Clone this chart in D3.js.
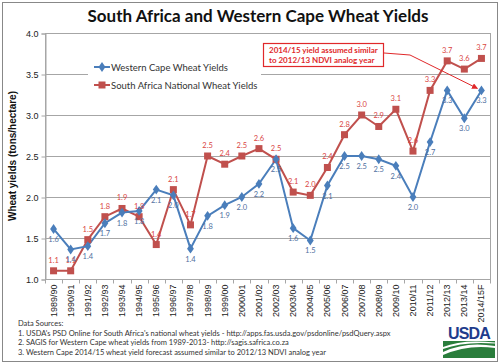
<!DOCTYPE html>
<html><head><meta charset="utf-8">
<script src="https://cdn.jsdelivr.net/npm/d3@7"></script>
<style>
html,body{margin:0;padding:0;background:#fff;}
svg{display:block;}
</style></head>
<body>
<svg id="chart" width="500" height="364"></svg>
<script>
const categories = ["1989/90","1990/91","1991/92","1992/93","1993/94","1994/95","1995/96","1996/97","1997/98","1998/99","1999/00","2000/01","2001/02","2002/03","2003/04","2004/05","2005/06","2006/07","2007/08","2008/09","2009/10","2010/11","2011/12","2012/13","2013/14","2014/15F"];
const westernCape = [1.61,1.36,1.40,1.68,1.81,1.83,2.09,2.02,1.37,1.77,1.90,2.00,2.16,2.46,1.62,1.47,2.14,2.50,2.50,2.46,2.38,2.00,2.67,3.30,2.96,3.30];
const southAfrica = [1.10,1.10,1.48,1.76,1.86,1.76,1.42,2.09,1.66,2.50,2.40,2.50,2.59,2.46,2.06,2.02,2.36,2.76,3.00,2.86,3.07,2.56,3.30,3.66,3.56,3.69];
const yTicks = [1.0,1.5,2.0,2.5,3.0,3.5,4.0];
const seriesNames = ["Western Cape Wheat Yields","South Africa National Wheat Yields"];
const titleText = "South Africa and Western Cape Wheat Yields";
const yTitle = "Wheat yields (tons/hectare)";
const noteLines = ["2014/15 yield assumed similar","to 2012/13 NDVI analog year"];
const sourceLines = ["Data Sources:",
 "1. USDA's PSD Online for South Africa's national wheat yields - http://apps.fas.usda.gov/psdonline/psdQuery.aspx",
 "2. SAGIS for Western Cape wheat yields from 1989-2013- http://sagis.safrica.co.za",
 "3. Western Cape 2014/15 wheat yield forecast  assumed similar to 2012/13 NDVI analog year"];

const blue = "#4a7ebb", red = "#c0504d", blueLbl = "#4f6fa0", redLbl = "#d9453f";
const svg = d3.select("#chart");
const L = 45, R = 490, T = 33, B = 279;

// outer border
svg.append("rect").attr("x",2.5).attr("y",2.5).attr("width",495).attr("height",359)
  .attr("fill","#fff").attr("stroke","#888").attr("stroke-width",1);

const x = d3.scalePoint().domain(categories).range([L,R]).padding(0.5);
const y = d3.scaleLinear().domain([1,4]).range([B,T]);

// title
svg.append("text").attr("x",258).attr("y",22).attr("text-anchor","middle")
  .attr("font-family","Lato, 'Open Sans', sans-serif").attr("font-weight","bold")
  .attr("font-size",17).attr("fill","#111").text(titleText);

// gridlines
svg.append("g").selectAll("line").data(yTicks).join("line")
  .attr("x1",L).attr("x2",R).attr("y1",d=>Math.round(y(d))+0.5).attr("y2",d=>Math.round(y(d))+0.5)
  .attr("stroke","#a6a6a6").attr("stroke-width",1);
svg.append("rect").attr("x",L+0.5).attr("y",T+0.5).attr("width",R-L).attr("height",B-T)
  .attr("fill","none").attr("stroke","#a6a6a6");

// y axis
const yAxis = d3.axisLeft(y).tickValues(yTicks).tickFormat(d3.format(".1f")).tickSize(4).tickPadding(3);
const gy = svg.append("g").attr("transform",`translate(${L+0.5},0.5)`).call(yAxis);
gy.select(".domain").attr("stroke","#a6a6a6");
gy.selectAll(".tick line").attr("stroke","#a6a6a6");
gy.selectAll("text").attr("font-family","'Liberation Sans', Arial, sans-serif").attr("font-size",9).attr("fill","#222");

// x axis with ticks between categories
const step = x.step();
const gx = svg.append("g").attr("transform",`translate(0,${B+0.5})`);
gx.append("line").attr("x1",L).attr("x2",R).attr("stroke","#a6a6a6");
gx.selectAll("line.tk").data(d3.range(categories.length+1)).join("line").attr("class","tk")
  .attr("x1",i=>Math.round(L+i*step)+0.5).attr("x2",i=>Math.round(L+i*step)+0.5)
  .attr("y1",0).attr("y2",4).attr("stroke","#a6a6a6");
gx.selectAll("text").data(categories).join("text")
  .attr("transform",d=>`translate(${x(d)+3},5) rotate(-90)`)
  .attr("text-anchor","end")
  .attr("font-family","'Liberation Sans', Arial, sans-serif").attr("font-size",9).attr("fill","#222")
  .text(d=>d);

// y title
svg.append("text").attr("transform",`translate(16,${(T+B)/2}) rotate(-90)`)
  .attr("text-anchor","middle").attr("font-family","'Liberation Sans', Arial, sans-serif")
  .attr("font-weight","bold").attr("font-size",10).attr("fill","#111").text(yTitle);

// lines
const line = d3.line().x((d,i)=>x(categories[i])).y(d=>y(d));
svg.append("path").datum(southAfrica).attr("d",line).attr("fill","none").attr("stroke",red).attr("stroke-width",2);
svg.append("path").datum(westernCape).attr("d",line).attr("fill","none").attr("stroke",blue).attr("stroke-width",2);

// markers
svg.append("g").selectAll("rect").data(southAfrica).join("rect")
  .attr("x",(d,i)=>x(categories[i])-3.5).attr("y",d=>y(d)-3.5).attr("width",7).attr("height",7).attr("fill",red);
const diamond = d3.symbol().type(d3.symbolDiamond).size(28);
svg.append("g").selectAll("path").data(westernCape).join("path")
  .attr("d",diamond).attr("transform",(d,i)=>`translate(${x(categories[i])},${y(d)}) scale(1.2,1)`).attr("fill",blue);

// data labels
svg.append("g").selectAll("text").data(southAfrica).join("text")
  .attr("x",(d,i)=>x(categories[i])).attr("y",d=>y(d)-8).attr("text-anchor","middle")
  .attr("font-family","Lato, sans-serif").attr("font-size",7.5).attr("fill",redLbl)
  .text(d=>d3.format(".1f")(d));
svg.append("g").selectAll("text").data(westernCape).join("text")
  .attr("x",(d,i)=>x(categories[i])).attr("y",d=>y(d)+13).attr("text-anchor","middle")
  .attr("font-family","Lato, sans-serif").attr("font-size",7.5).attr("fill",blueLbl)
  .text(d=>d3.format(".1f")(d));

// legend
const lg = svg.append("g");
lg.append("rect").attr("x",88).attr("y",56).attr("width",173).attr("height",38).attr("fill","#fff");
const legendData = [{name:seriesNames[0],c:blue,m:"d"},{name:seriesNames[1],c:red,m:"s"}];
legendData.forEach((s,i)=>{
  const yy = 67 + i*18;
  lg.append("line").attr("x1",94).attr("x2",110).attr("y1",yy).attr("y2",yy).attr("stroke",s.c).attr("stroke-width",2);
  if(s.m==="d") lg.append("path").attr("d",diamond).attr("transform",`translate(102,${yy}) scale(1.2,1)`).attr("fill",s.c);
  else lg.append("rect").attr("x",98.5).attr("y",yy-3.5).attr("width",7).attr("height",7).attr("fill",s.c);
  lg.append("text").attr("x",111).attr("y",yy+3.5).attr("font-family","Lato, sans-serif").attr("font-size",9.5)
    .attr("fill","#333").text(s.name);
});

// annotation box
svg.append("rect").attr("x",263.5).attr("y",43.5).attr("width",120).attr("height",23)
  .attr("fill","#fff").attr("stroke","#e0282a").attr("stroke-width",1.2);
noteLines.forEach((t,i)=>svg.append("text").attr("x",269).attr("y",53+i*10)
  .attr("font-family","Lato, sans-serif").attr("font-weight","bold").attr("font-size",8)
  .attr("fill","#e0282a").text(t));
svg.append("defs").append("marker").attr("id","arr").attr("viewBox","0 0 10 10").attr("refX",9).attr("refY",5)
  .attr("markerWidth",6).attr("markerHeight",6).attr("orient","auto")
  .append("path").attr("d","M0,0L10,5L0,10z").attr("fill","#e0282a");
const tgt = [x(categories[categories.length-1])-4, y(westernCape[westernCape.length-1])-2];
svg.append("path").attr("d",`M384,53 L410,55 L${tgt[0]},${tgt[1]}`).attr("fill","none")
  .attr("stroke","#e0282a").attr("stroke-width",1).attr("marker-end","url(#arr)");

// sources
sourceLines.forEach((t,i)=>svg.append("text").attr("x",18).attr("y",326+i*9.7)
  .attr("font-family","Lato, sans-serif").attr("font-size",7.5).attr("fill","#333").text(t));

// USDA logo
const lo = svg.append("g");
lo.append("text").attr("x",469).attr("y",339).attr("text-anchor","middle")
  .attr("font-family","'Liberation Sans', Arial, sans-serif").attr("font-weight","bold")
  .attr("font-size",16).attr("fill","#1f3c8c").attr("letter-spacing",-0.8).text("USDA");
lo.append("rect").attr("x",443).attr("y",341).attr("width",52).attr("height",17).attr("fill","#2a7d3c");
lo.append("path").attr("d","M443,352 Q466,341 495,346 L495,348 Q468,344 443,355 Z").attr("fill","#fff");
lo.append("path").attr("d","M443,347 Q462,339 495,342.5 L495,343.5 Q464,341 443,349 Z").attr("fill","#fff");
</script>
</body></html>
